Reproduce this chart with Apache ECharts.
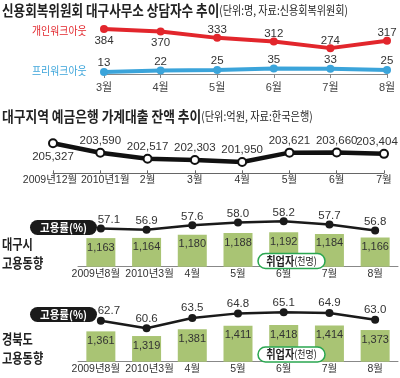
<!DOCTYPE html>
<html>
<head>
<meta charset="utf-8">
<script src="https://cdn.jsdelivr.net/npm/echarts@6/dist/echarts.min.js"></script>
<style>
  html, body { margin: 0; padding: 0; background: #fff; }
  #chart { width: 400px; height: 378px; }
</style>
</head>
<body>
<div id="chart"></div>
<script>
// 신용회복위원회 대구사무소 상담자수 (명)
const counselMonths = ['3월', '4월', '5월', '6월', '7월', '8월'];
const personalWorkout = [384, 370, 333, 312, 274, 317];
const preWorkout = [13, 22, 25, 35, 33, 25];

// 대구지역 예금은행 가계대출 잔액 (억원)
const loanMonths = ['2009년12월', '2010년1월', '2월', '3월', '4월', '5월', '6월', '7월'];
const loanBalance = [205327, 203590, 202517, 202303, 201950, 203621, 203660, 203404];

// 고용동향: 고용률(%), 취업자(천명)
const jobMonths = ['2009년8월', '2010년3월', '4월', '5월', '6월', '7월', '8월'];
const daeguRate = [57.1, 56.9, 57.6, 58.0, 58.2, 57.7, 56.8];
const daeguEmployed = [1163, 1164, 1180, 1188, 1192, 1184, 1166];
const gbRate = [62.7, 60.6, 63.5, 64.8, 65.1, 64.9, 63.0];
const gbEmployed = [1361, 1319, 1381, 1411, 1418, 1414, 1373];

const NUM_FONT = "'Liberation Sans', 'Noto Sans CJK KR', sans-serif";
const KR_FONT = "'Noto Sans CJK KR', sans-serif";
const RED = '#e2262c';
const BLUE = '#3ba4da';
const GREEN = '#a9c474';

const comma = v => v.toLocaleString('en-US');

const chart = echarts.init(document.getElementById('chart'));

const numLabel = (extra) => Object.assign({
    show: true,
    fontFamily: NUM_FONT,
    fontSize: 11.5,
    color: '#333'
}, extra);

const hiddenAxis = (type, extra) => Object.assign({ type, show: false }, extra);

// the first two month labels sit a little apart from their points in the original
const spreadLabel = (v, i) => i === 0 ? '{a|' + v + '}' : i === 1 ? '{b|' + v + '}' : v;
const axisText = (margin, shiftA, shiftB) => ({
    fontFamily: NUM_FONT,
    fontSize: 10.5,
    color: '#333',
    margin,
    interval: 0,
    formatter: spreadLabel,
    rich: {
        a: { fontFamily: NUM_FONT, fontSize: 10.5, color: '#333', padding: [0, shiftA, 0, 0] },
        b: { fontFamily: NUM_FONT, fontSize: 10.5, color: '#333', padding: [0, 0, 0, shiftB] }
    }
});

const catAxis = (data, grid, extra) => Object.assign({
    type: 'category',
    gridIndex: grid,
    data,
    axisLine: { lineStyle: { color: '#888', width: 1 } },
    axisTick: { show: false },
    axisLabel: axisText(2, 10, 6)
}, extra);

// helpers for the text bits drawn on top
function txt(x, y, text, style, scaleX, align) {
    return {
        type: 'text', x, y, scaleX: scaleX || 1, z: 100,
        style: Object.assign({
            text,
            fill: '#222',
            fontFamily: KR_FONT,
            align: align || 'left',
            textAlign: align || 'left',
            verticalAlign: 'middle',
            textVerticalAlign: 'middle'
        }, style)
    };
}
function pillRect(x, y, w, h, fill, stroke) {
    return {
        type: 'rect', z: 99,
        shape: { x, y, width: w, height: h, r: h / 2 },
        style: { fill, stroke: stroke || null, lineWidth: stroke ? 1.5 : 0 }
    };
}

const titleRich = {
    b: { fontSize: 15, fontWeight: 'bold', fontFamily: KR_FONT, color: '#111' },
    s: { fontSize: 12, fontFamily: KR_FONT, color: '#222' }
};
const pillRich = {
    b: { fontSize: 12, fontWeight: 'bold', fontFamily: KR_FONT, color: '#111' },
    s: { fontSize: 10.5, fontFamily: KR_FONT, color: '#222' }
};

const graphics = [
    txt(2, 10, '{b|신용회복위원회 대구사무소 상담자수 추이}{s|(단위:명, 자료:신용회복위원회)}', { rich: titleRich }, 0.84),
    txt(32, 31, '개인워크아웃', { fill: RED, fontSize: 11.5 }, 0.86),
    txt(32, 71, '프리워크아웃', { fill: BLUE, fontSize: 11.5 }, 0.86),
    txt(2, 116, '{b|대구지역 예금은행 가계대출 잔액 추이}{s|(단위:억원, 자료:한국은행)}', { rich: titleRich }, 0.85),

    txt(2, 244, '대구시', { fontSize: 14, fontWeight: 'bold' }, 0.8),
    txt(2, 262.5, '고용동향', { fontSize: 14, fontWeight: 'bold' }, 0.8),
    pillRect(30, 220, 67, 15, '#1a1a1a'),
    txt(63.5, 227.5, '고용률(%)', { fill: '#fff', fontSize: 11, fontWeight: 'bold' }, 0.95, 'center'),
    pillRect(258, 253.5, 67, 15, '#fff', '#2aa650'),
    txt(291.5, 261, '{b|취업자}{s|(천명)}', { rich: pillRich }, 0.85, 'center'),

    txt(2, 339, '경북도', { fontSize: 14, fontWeight: 'bold' }, 0.8),
    txt(2, 357.5, '고용동향', { fontSize: 14, fontWeight: 'bold' }, 0.8),
    pillRect(30, 307, 67, 15, '#1a1a1a'),
    txt(63.5, 314.5, '고용률(%)', { fill: '#fff', fontSize: 11, fontWeight: 'bold' }, 0.95, 'center'),
    pillRect(258, 347, 67, 15, '#fff', '#2aa650'),
    txt(291.5, 354.5, '{b|취업자}{s|(천명)}', { rich: pillRich }, 0.85, 'center')
];

const rateSeries = (values, x, y, dist) => ({
    type: 'line',
    xAxisIndex: x,
    yAxisIndex: y,
    z: 5,
    data: values.map((v, i) => ({
        value: v,
        label: i === 0 ? { offset: [8, 0] } : undefined
    })),
    symbol: 'circle',
    symbolSize: 8,
    itemStyle: { color: '#1a1a1a' },
    lineStyle: { color: '#1a1a1a', width: 2.5 },
    label: numLabel({ position: 'top', distance: dist, formatter: p => p.value.toFixed(1) })
});

const barSeries = (values, x, y) => ({
    type: 'bar',
    xAxisIndex: x,
    yAxisIndex: y,
    barWidth: 29,
    data: values,
    itemStyle: { color: GREEN },
    label: numLabel({ position: 'insideTop', distance: 4, fontSize: 11, formatter: p => comma(p.value) })
});

const option = {
    animation: false,
    backgroundColor: '#fff',
    textStyle: { fontFamily: KR_FONT },
    graphic: graphics,
    grid: [
        { left: 104, right: 13, top: 21, height: 40 },        // 개인워크아웃
        { left: 104, right: 13, top: 66, height: 8 },         // 프리워크아웃
        { left: 53, right: 16, top: 130, height: 43.3 },      // 가계대출
        { left: 78, right: 2, top: 206.7, height: 60 },       // 대구시
        { left: 78, right: 2, top: 301.7, height: 60 }        // 경북도
    ],
    xAxis: [
        hiddenAxis('category', { gridIndex: 0, data: counselMonths, boundaryGap: false }),
        catAxis(counselMonths, 1, {
            boundaryGap: false,
            offset: 1.5,
            axisTick: { show: true, length: 4, lineStyle: { color: '#888' } },
            axisLabel: { fontFamily: NUM_FONT, fontSize: 11, color: '#444', margin: 7 }
        }),
        catAxis(loanMonths, 2, {
            boundaryGap: false,
            axisLine: { lineStyle: { color: '#666', width: 1 } },
            axisTick: { show: true, inside: true, length: 3, lineStyle: { color: '#666' } },
            axisLabel: axisText(2, 6, 10)
        }),
        catAxis(jobMonths, 3),
        catAxis(jobMonths, 4)
    ],
    yAxis: [
        hiddenAxis('value', { gridIndex: 0, min: 200, max: 430 }),
        hiddenAxis('value', { gridIndex: 1, min: 0, max: 50 }),
        hiddenAxis('value', { gridIndex: 2, min: 199900, max: 207700 }),
        hiddenAxis('value', { gridIndex: 3, min: 1020, max: 1320 }),
        hiddenAxis('value', { gridIndex: 3, min: 51.3, max: 60.4 }),
        hiddenAxis('value', { gridIndex: 4, min: 1088, max: 1628 }),
        hiddenAxis('value', { gridIndex: 4, min: 51.23, max: 68.08 })
    ],
    series: [
        {
            type: 'line',
            xAxisIndex: 0,
            yAxisIndex: 0,
            data: personalWorkout.map((v, i) => ({
                value: v,
                label: i < 2 ? { position: 'bottom', distance: 2 } : undefined
            })),
            symbol: 'circle',
            symbolSize: 8,
            itemStyle: { color: RED },
            lineStyle: { color: RED, width: 4 },
            label: numLabel({ position: 'top', distance: -2 })
        },
        {
            type: 'line',
            xAxisIndex: 1,
            yAxisIndex: 1,
            data: preWorkout,
            symbol: 'circle',
            symbolSize: 8,
            itemStyle: { color: BLUE },
            lineStyle: { color: BLUE, width: 4 },
            label: numLabel({ position: 'top', distance: -1 })
        },
        {
            type: 'line',
            xAxisIndex: 2,
            yAxisIndex: 2,
            data: loanBalance.map((v, i) => ({
                value: v,
                label: i === 0 ? { position: 'bottom', distance: 3 }
                    : i === loanBalance.length - 1 ? { offset: [-7, 0] } : undefined
            })),
            symbol: 'circle',
            symbolSize: 8,
            itemStyle: { color: '#fff', borderColor: '#111', borderWidth: 2 },
            lineStyle: { color: '#111', width: 4.5 },
            label: numLabel({ position: 'top', distance: 1, formatter: p => comma(p.value) })
        },
        barSeries(daeguEmployed, 3, 3),
        rateSeries(daeguRate, 3, 4, -1),
        barSeries(gbEmployed, 4, 5),
        rateSeries(gbRate, 4, 6, 0)
    ]
};

chart.setOption(option);
</script>
</body>
</html>
